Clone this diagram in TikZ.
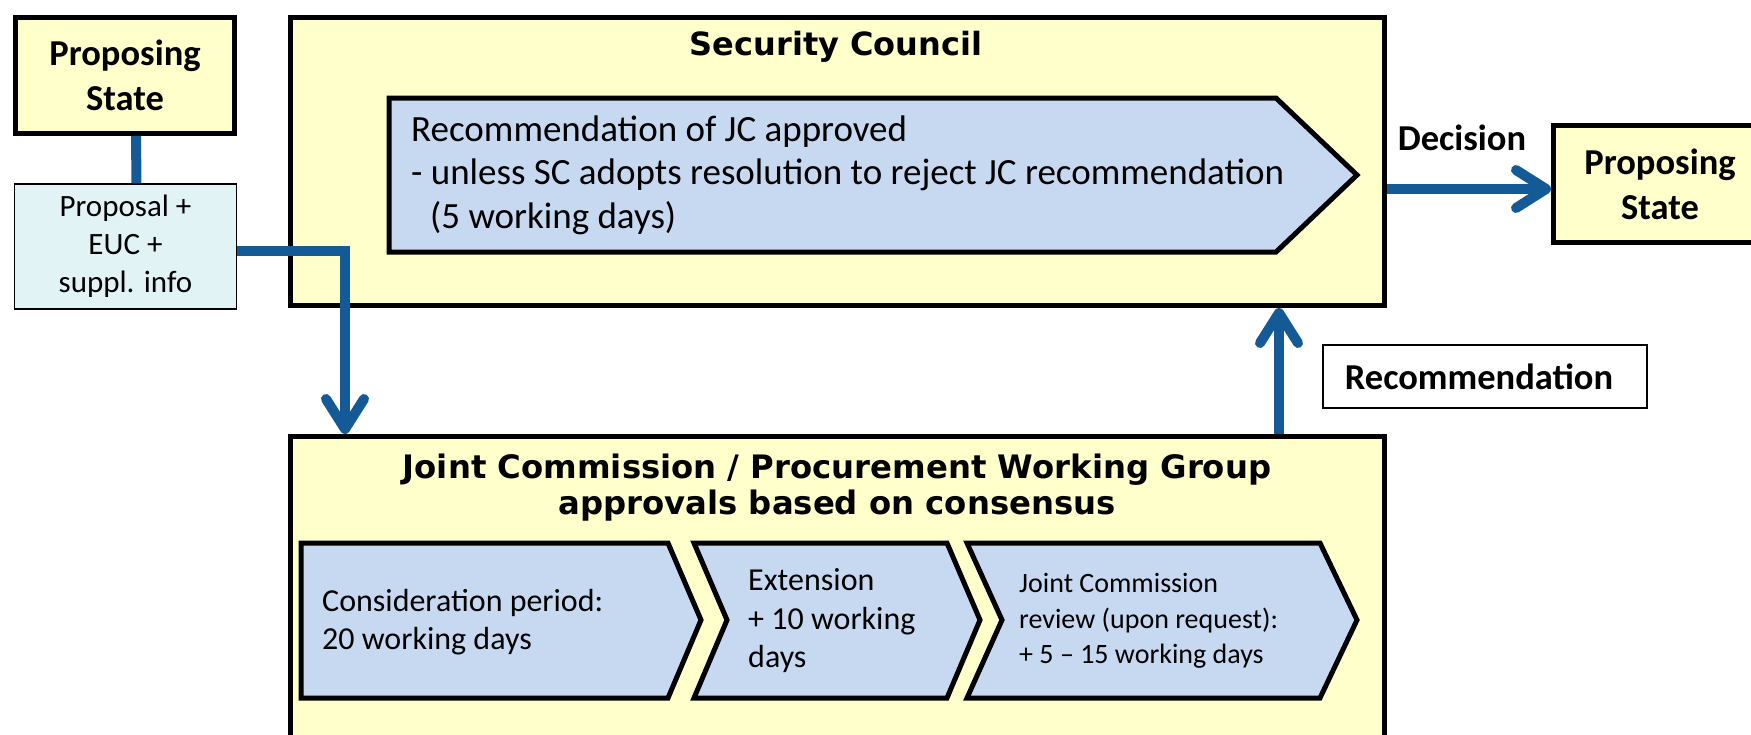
\documentclass[tikz,border=0pt]{standalone}
\usepackage{fontspec}
\setmainfont{Carlito}
\newfontfamily\titlefont{DejaVu Sans}
\usetikzlibrary{arrows.meta}
\definecolor{boxyellow}{HTML}{FFFFCC}
\definecolor{chevblue}{HTML}{C6D9F1}
\definecolor{propcyan}{HTML}{E2F3F5}
\definecolor{flowblue}{HTML}{145A96}
\begin{document}
\begin{tikzpicture}[x=1pt,y=-1pt,
  ybox/.style={draw=black,fill=boxyellow,line width=5pt,inner sep=0pt},
  chev/.style={draw=black,fill=chevblue,line width=5pt,line join=miter},
  conn/.style={draw=flowblue,line width=10pt},
  arr/.style={conn,-{Straight Barb[length=30pt,width=38pt,round]}},
  boldlbl/.style={font=\fontsize{36.5}{45}\selectfont\bfseries,align=center,inner sep=0pt},
  titletext/.style={font={\titlefont\fontsize{32}{36}\selectfont\bfseries},align=center,inner sep=0pt},
  bodytext/.style={anchor=west,align=left,inner sep=0pt,font=\fontsize{32}{38.5}\selectfont}]
\useasboundingbox (0,0) rectangle (1751,734);
\clip (0,0) rectangle (1751,734);
\fill[white] (0,0) rectangle (1751,734);

% boxes
\node[ybox,minimum width=219pt,minimum height=116pt,boldlbl] (psA) at (125,75.5) {Proposing\\State};
\node[draw=black,fill=propcyan,line width=1.5pt,minimum width=222pt,minimum height=125pt,align=center,inner sep=0pt,font=\fontsize{31}{38}\selectfont] (prop) at (125.5,246.5) {Proposal +\\EUC +\\suppl. info};
\node[ybox,minimum width=1094pt,minimum height=288pt] (sc) at (837.5,161.5) {};
\node[ybox,minimum width=1094pt,minimum height=320pt] (jc) at (837.5,596.5) {};
\node[ybox,minimum width=213pt,minimum height=117pt,boldlbl] (psB) at (1660,184) {Proposing\\State};
\node[draw=black,line width=2pt,minimum width=324pt,minimum height=63pt] (rec) at (1485,376.5) {};
\node[boldlbl] (rectext) at (1479,376.5) {Recommendation};

% titles
\node[titletext] (sctitle) at (836,47) {Security Council};
\node[titletext,font={\titlefont\fontsize{32.3}{36}\selectfont\bfseries}] (jctitle) at (837,488) {Joint Commission / Procurement Working Group\\approvals based on consensus};

% chevrons
\draw[chev] (389,98) -- (1276,98) -- (1357,175) -- (1276,252) -- (389,252) -- cycle;
\draw[chev] (301,543) -- (668,543) -- (701,620) -- (668,698) -- (301,698) -- cycle;
\draw[chev] (694,543) -- (947,543) -- (980,620) -- (947,698) -- (694,698) -- (727,620) -- cycle;
\draw[chev] (967,543) -- (1320,543) -- (1357,620) -- (1320,698) -- (967,698) -- (1002,620) -- cycle;

% chevron texts
\node[bodytext,font=\fontsize{37}{43.5}\selectfont] (sctext) at (411,175) {Recommendation of JC approved\\- unless SC adopts resolution to reject JC recommendation\\\hspace*{19pt}(5 working days)};
\node[bodytext] (c1text) at (322,622) {Consideration period:\\20 working days};
\node[bodytext] (c2text) at (748,621) {Extension\\+ 10 working\\days};
\node[bodytext,font=\fontsize{28}{35.5}\selectfont] (c3text) at (1019,621) {Joint Commission\\review (upon request):\\+ 5 -- 15 working days};

% label
\node[boldlbl] (dec) at (1462,138) {Decision};

% connectors
\draw[conn] ([xshift=11pt]psA.south) -- ([xshift=11pt]prop.north);
\draw[arr] ([yshift=-4.5pt]prop.east) -| ([xshift=-492.5pt]jc.north);
\draw[arr] ([yshift=-27.5pt]sc.east) -- ([yshift=-5pt]psB.west);
\draw[arr] ([xshift=441.5pt]jc.north) -- ([xshift=441.5pt]sc.south);
\end{tikzpicture}
\end{document}
